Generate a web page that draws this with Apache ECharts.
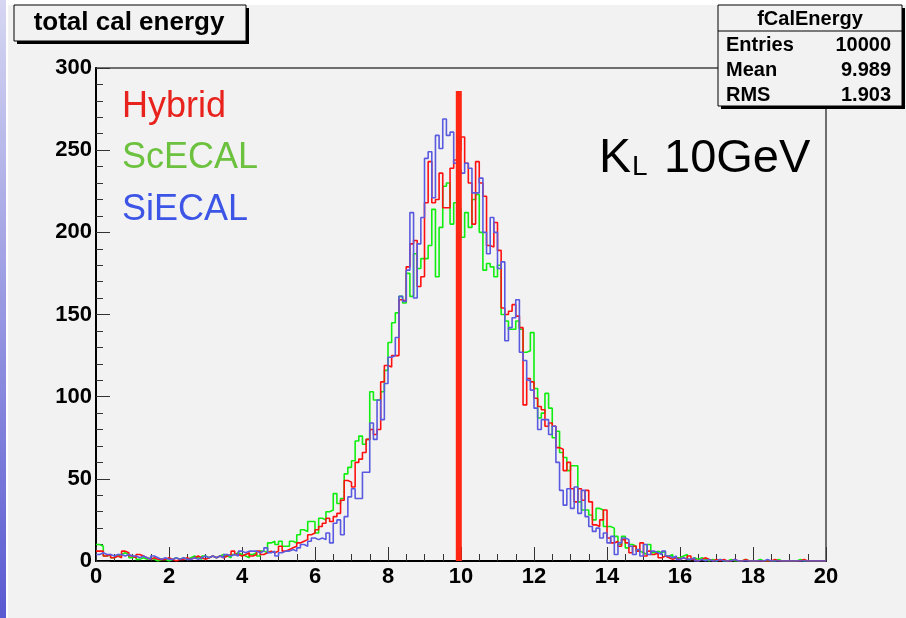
<!DOCTYPE html>
<html>
<head>
<meta charset="utf-8">
<script src="https://cdn.jsdelivr.net/npm/echarts@6/dist/echarts.min.js"></script>
<style>
html, body { margin: 0; padding: 0; background: #f2f2f2; }
#chart { width: 906px; height: 618px; }
</style>
</head>
<body>
<div id="chart"></div>
<script>
// histogram binning: 200 bins of 0.1 GeV from 0 to 20
var binLow = 0;
var binWidth = 0.1;

// Hybrid (red)
var hybrid = [
    6, 6, 3, 4, 2, 3, 2, 6, 5, 3,
    2, 4, 3, 2, 1, 2, 1, 1, 1, 2,
    1, 0, 1, 1, 2, 1, 2, 3, 2, 1,
    2, 3, 2, 3, 2, 3, 4, 6, 4, 3,
    4, 5, 3, 4, 6, 4, 5, 6, 5, 6,
    9, 6, 7, 8, 9, 11, 12, 13, 16, 17,
    19, 21, 23, 26, 24, 27, 29, 37, 49, 48,
    45, 60, 62, 66, 74, 80, 77, 80, 109, 119,
    118, 125, 125, 159, 158, 179, 193, 195, 167, 173,
    218, 243, 218, 220, 236, 215, 215, 239, 244, 250,
    258, 242, 230, 205, 243, 230, 222, 192, 191, 206,
    189, 154, 150, 152, 156, 149, 142, 95, 111, 109,
    99, 94, 92, 82, 84, 82, 69, 68, 55, 60,
    44, 36, 44, 37, 43, 36, 22, 21, 25, 31,
    14, 11, 12, 9, 13, 11, 5, 9, 6, 11,
    3, 6, 4, 5, 2, 3, 2, 1, 2, 1,
    2, 1, 3, 1, 0, 1, 2, 1, 0, 1,
    0, 1, 0, 0, 1, 0, 0, 1, 0, 0,
    0, 0, 0, 0, 0, 1, 0, 0, 0, 0,
    0, 0, 0, 1, 0, 0, 0, 0, 0, 0
];

// ScECAL (green)
var scEcal = [
    10, 9, 3, 4, 2, 3, 4, 5, 4, 2,
    3, 1, 2, 1, 2, 1, 0, 1, 1, 0,
    1, 2, 1, 2, 1, 2, 3, 2, 1, 3,
    2, 3, 2, 3, 4, 3, 2, 4, 5, 4,
    3, 2, 4, 5, 3, 6, 5, 11, 12, 10,
    12, 9, 9, 12, 11, 16, 19, 18, 24, 24,
    17, 26, 25, 30, 31, 41, 35, 38, 53, 57,
    61, 73, 76, 71, 74, 103, 98, 98, 103, 116,
    133, 145, 151, 161, 157, 175, 161, 187, 178, 184,
    184, 192, 214, 173, 203, 228, 230, 205, 218, 215,
    197, 212, 203, 220, 223, 200, 177, 181, 179, 173,
    180, 150, 146, 141, 141, 146, 141, 127, 128, 139,
    105, 87, 90, 102, 93, 75, 79, 66, 63, 55,
    58, 58, 36, 31, 31, 28, 25, 32, 31, 21,
    21, 20, 15, 10, 15, 8, 10, 9, 6, 5,
    4, 10, 5, 6, 5, 6, 3, 4, 2, 2,
    3, 4, 1, 2, 1, 2, 1, 0, 1, 0,
    1, 0, 0, 1, 0, 0, 0, 1, 0, 0,
    0, 1, 0, 0, 0, 0, 1, 0, 0, 0,
    0, 0, 1, 0, 0, 0, 0, 0, 0, 0
];

// SiECAL (blue)
var siEcal = [
    4, 5, 4, 4, 3, 4, 4, 3, 4, 3,
    3, 2, 3, 2, 1, 3, 2, 1, 2, 1,
    1, 2, 1, 2, 1, 1, 2, 1, 2, 3,
    2, 3, 2, 3, 2, 4, 3, 4, 3, 6,
    5, 6, 6, 6, 5, 6, 8, 5, 6, 3,
    5, 6, 6, 7, 6, 8, 10, 9, 12, 14,
    13, 14, 13, 17, 11, 23, 25, 16, 27, 39,
    44, 38, 38, 54, 54, 84, 74, 98, 86, 108,
    124, 125, 136, 161, 158, 177, 212, 160, 193, 209,
    245, 249, 221, 259, 251, 269, 259, 261, 242, 238,
    236, 242, 239, 224, 224, 233, 200, 187, 209, 200,
    178, 182, 134, 142, 148, 159, 127, 122, 110, 104,
    93, 80, 86, 86, 77, 82, 60, 43, 34, 44,
    32, 45, 29, 43, 27, 21, 18, 20, 14, 17,
    11, 15, 4, 11, 14, 13, 9, 4, 7, 3,
    10, 4, 6, 5, 4, 6, 3, 2, 3, 1,
    2, 1, 1, 2, 0, 1, 0, 1, 0, 0,
    1, 0, 0, 0, 1, 0, 0, 0, 0, 0,
    0, 0, 0, 1, 0, 0, 0, 0, 0, 0,
    0, 0, 0, 0, 0, 0, 0, 0, 0, 0
];

var legendNames = ['Hybrid', 'ScECAL', 'SiECAL'];
var legendColors = ['#e8221c', '#6cc23e', '#3d55e6'];
var lineColors = ['#ff1010', '#10ee10', '#5a5ae0'];

var statTitle = 'fCalEnergy';
var statNames = ['Entries', 'Mean', 'RMS'];
var statValues = ['10000', '9.989', '1.903'];

// thick marker near the beam energy (as placed in the picture)
var beamEnergy = 9.94;
var beamLineTop = 286;

var font = '"Liberation Sans", Helvetica, Arial, sans-serif';

function toSteps(arr) {
    var pts = [];
    for (var i = 0; i < arr.length; i++) {
        pts.push([binLow + i * binWidth, arr[i]]);
    }
    // close the last bin
    pts.push([binLow + arr.length * binWidth, arr[arr.length - 1]]);
    return pts;
}

function histSeries(name, arr, color, z) {
    return {
        name: name,
        type: 'line',
        step: 'end',
        data: toSteps(arr),
        symbol: 'none',
        showSymbol: false,
        silent: true,
        z: z,
        lineStyle: { color: color, width: 1.6 },
        itemStyle: { color: color }
    };
}

var graphics = [];

// page decoration: white edges and lavender strip on the left
graphics.push({ type: 'rect', shape: { x: 0, y: 0, width: 906, height: 5 }, style: { fill: '#ffffff' }, z: 1 });
graphics.push({ type: 'rect', shape: { x: 0, y: 0, width: 8, height: 618 }, style: { fill: '#ffffff' }, z: 1 });
graphics.push({
    type: 'rect', shape: { x: 0, y: 0, width: 6, height: 618 }, z: 2,
    style: {
        fill: new echarts.graphic.LinearGradient(0, 0, 0, 1, [
            { offset: 0, color: '#d6d6f2' },
            { offset: 1, color: '#5a5ad2' }
        ])
    }
});

// title box with shadow
graphics.push({ type: 'rect', shape: { x: 17, y: 8, width: 232, height: 36 }, style: { fill: '#000' }, z: 100 });
graphics.push({ type: 'rect', shape: { x: 14, y: 5, width: 232, height: 36 }, style: { fill: '#f2f2f2', stroke: '#000', lineWidth: 1 }, z: 101 });
graphics.push({
    type: 'text', x: 129, y: 23, z: 102,
    style: { text: 'total cal energy', font: 'bold 26px ' + font, fill: '#000', textAlign: 'center', textVerticalAlign: 'middle' }
});

// stats box with shadow
graphics.push({ type: 'rect', shape: { x: 721, y: 8, width: 184, height: 101 }, style: { fill: '#000' }, z: 100 });
graphics.push({ type: 'rect', shape: { x: 718, y: 5, width: 184, height: 101 }, style: { fill: '#f2f2f2', stroke: '#000', lineWidth: 1 }, z: 101 });
graphics.push({ type: 'line', shape: { x1: 718, y1: 31, x2: 902, y2: 31 }, style: { stroke: '#000', lineWidth: 1 }, z: 102 });
graphics.push({
    type: 'text', x: 810, y: 19, z: 102,
    style: { text: statTitle, font: 'bold 20px ' + font, fill: '#000', textAlign: 'center', textVerticalAlign: 'middle' }
});
for (var s = 0; s < statNames.length; s++) {
    graphics.push({
        type: 'text', x: 726, y: 45 + s * 25, z: 102,
        style: { text: statNames[s], font: 'bold 20px ' + font, fill: '#000', textAlign: 'left', textVerticalAlign: 'middle' }
    });
    graphics.push({
        type: 'text', x: 891, y: 45 + s * 25, z: 102,
        style: { text: statValues[s], font: 'bold 20px ' + font, fill: '#000', textAlign: 'right', textVerticalAlign: 'middle' }
    });
}

// legend labels
for (var l = 0; l < legendNames.length; l++) {
    graphics.push({
        type: 'text', x: 122, y: 107 + l * 51.5, z: 50,
        style: { text: legendNames[l], font: '36px ' + font, fill: legendColors[l], textAlign: 'left', textVerticalAlign: 'middle' }
    });
}

// K_L 10GeV label
graphics.push({ type: 'text', x: 599, y: 159, z: 50, style: { text: 'K', font: '48px ' + font, fill: '#000', textVerticalAlign: 'middle' } });
graphics.push({ type: 'text', x: 632, y: 167, z: 50, style: { text: 'L', font: '28px ' + font, fill: '#000', textVerticalAlign: 'middle' } });
graphics.push({ type: 'text', x: 664, y: 159, z: 50, style: { text: '10GeV', font: '47px ' + font, fill: '#000', textVerticalAlign: 'middle' } });

var chart = echarts.init(document.getElementById('chart'), null, { renderer: 'canvas' });

var option = {
    animation: false,
    backgroundColor: '#f2f2f2',
    grid: {
        left: 96, right: 80, top: 68, bottom: 57,
        show: true, borderColor: '#444', borderWidth: 1.5, backgroundColor: 'transparent'
    },
    xAxis: {
        type: 'value', min: 0, max: 20, interval: 2,
        axisLine: { onZero: false, lineStyle: { color: '#000', width: 2 } },
        axisTick: { inside: true, length: 14, lineStyle: { color: '#333', width: 1 } },
        minorTick: { show: true, splitNumber: 4, length: 7, lineStyle: { color: '#333', width: 1 } },
        splitLine: { show: false },
        axisLabel: { color: '#000', fontFamily: font, fontWeight: 'bold', fontSize: 22, margin: 5 }
    },
    yAxis: {
        type: 'value', min: 0, max: 300, interval: 50,
        axisLine: { show: true, onZero: false, lineStyle: { color: '#000', width: 2 } },
        axisTick: { show: true, inside: true, length: 14, lineStyle: { color: '#333', width: 1 } },
        minorTick: { show: true, splitNumber: 5, length: 7, lineStyle: { color: '#333', width: 1 } },
        splitLine: { show: false },
        axisLabel: { color: '#000', fontFamily: font, fontWeight: 'bold', fontSize: 22, margin: 4 }
    },
    graphic: { elements: graphics },
    series: [
        histSeries(legendNames[1], scEcal, lineColors[1], 2),
        histSeries(legendNames[0], hybrid, lineColors[0], 3),
        histSeries(legendNames[2], siEcal, lineColors[2], 4),
        {
            type: 'line',
            data: [[beamEnergy, 0], [beamEnergy, beamLineTop]],
            symbol: 'none',
            silent: true,
            z: 10,
            lineStyle: { color: '#ff2614', width: 6, cap: 'butt' }
        }
    ]
};

chart.setOption(option);
</script>
</body>
</html>
